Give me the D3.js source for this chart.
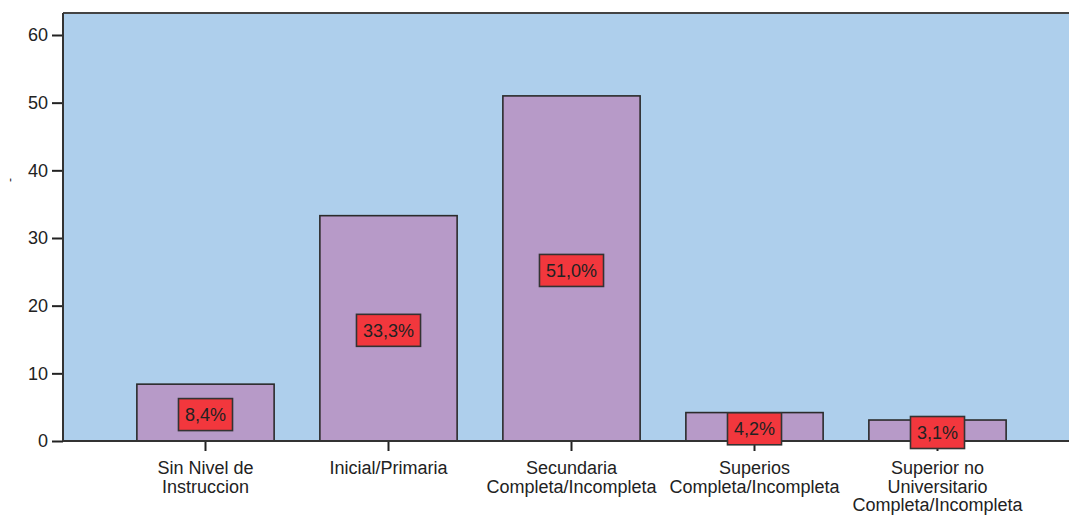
<!DOCTYPE html>
<html>
<head>
<meta charset="utf-8">
<script src="https://cdn.jsdelivr.net/npm/d3@7"></script>
<style>
  body { margin: 0; background: #fff; }
  text { font-family: "Liberation Sans", Arial, sans-serif; fill: #222; }
</style>
</head>
<body>
<div id="canvas"></div>
<script>
// data
var categories = [
  ["Sin Nivel de", "Instruccion"],
  ["Inicial/Primaria"],
  ["Secundaria", "Completa/Incompleta"],
  ["Superios", "Completa/Incompleta"],
  ["Superior no", "Universitario", "Completa/Incompleta"]
];
var values = [8.4, 33.3, 51.0, 4.2, 3.1];
var valueLabels = ["8,4%", "33,3%", "51,0%", "4,2%", "3,1%"];
var yTicks = [0, 10, 20, 30, 40, 50, 60];

var W = 1069, H = 515;
var m = {t: 13, r: 0, b: 74, l: 63};

var svg = d3.select('#canvas').append('svg')
  .attr('width', W)
  .attr('height', H);

var keys = categories.map(function(d, i) { return i; });

var scaleX = d3.scaleBand()
  .domain(keys)
  .range([114, 1029])
  .paddingInner(0.25)
  .paddingOuter(0.125);

var scaleY = d3.scaleLinear()
  .domain([0, 63.25])
  .range([H - m.b, m.t]);

// plot background
svg.append('rect')
  .attr('x', m.l)
  .attr('y', m.t)
  .attr('width', W - m.l + 2)
  .attr('height', scaleY(0) - m.t)
  .style('fill', '#aecfec');

// bars
svg.selectAll('rect.bar').data(values).enter()
  .append('rect')
  .attr('class', 'bar')
  .attr('x', function(d, i) { return scaleX(i); })
  .attr('y', function(d) { return scaleY(d); })
  .attr('width', scaleX.bandwidth())
  .attr('height', function(d) { return scaleY(0) - scaleY(d); })
  .style('fill', '#b79ac8')
  .style('stroke', '#2b2b2b')
  .style('stroke-width', 1.6);

// top frame line
svg.append('line')
  .attr('x1', m.l).attr('x2', W)
  .attr('y1', m.t).attr('y2', m.t)
  .style('stroke', '#444')
  .style('stroke-width', 2);

// axes
var yAxis = d3.axisLeft(scaleY).tickValues(yTicks).tickSize(11).tickPadding(4);
var gy = svg.append('g')
  .attr('transform', 'translate(' + m.l + ',0)')
  .call(yAxis);
gy.select('.domain').remove();
gy.append('line')
  .attr('x1', 0).attr('x2', 0)
  .attr('y1', m.t).attr('y2', scaleY(0))
  .style('stroke', '#333').style('stroke-width', 2);
gy.selectAll('.tick line').style('stroke', '#222').style('stroke-width', 2);
gy.selectAll('.tick text')
  .style('font-size', '18px')
  .attr('fill', '#222');

var xAxis = d3.axisBottom(scaleX).tickSize(10).tickFormat('');
var gx = svg.append('g')
  .attr('transform', 'translate(0,' + scaleY(0) + ')')
  .call(xAxis);
gx.select('.domain').remove();
gx.append('line')
  .attr('x1', m.l).attr('x2', W)
  .attr('y1', 0).attr('y2', 0)
  .style('stroke', '#333').style('stroke-width', 2);
gx.selectAll('.tick line').style('stroke', '#222').style('stroke-width', 2);

// category labels
gx.selectAll('.tick').each(function(k) {
  var t = d3.select(this).append('text')
    .attr('y', 33)
    .attr('text-anchor', 'middle')
    .style('font-size', '18px')
    .attr('fill', '#222');
  categories[k].forEach(function(line, j) {
    t.append('tspan').attr('x', 0).attr('dy', j ? 18.7 : 0).text(line);
  });
});

// value labels in red boxes
var lbl = svg.selectAll('g.lbl').data(values).enter()
  .append('g')
  .attr('class', 'lbl')
  .attr('transform', function(d, i) {
    return 'translate(' + (scaleX(i) + scaleX.bandwidth() / 2) + ',' + (scaleY(d / 2) + 2) + ')';
  });

lbl.each(function(d, i) {
  var g = d3.select(this);
  var r = g.append('rect');
  var t = g.append('text')
    .attr('text-anchor', 'middle')
    .attr('dy', '0.36em')
    .style('font-size', '18px')
    .attr('fill', '#1a1a1a')
    .text(valueLabels[i]);
  var tw = t.node().getComputedTextLength();
  r.attr('x', -tw / 2 - 6.5)
    .attr('y', -16)
    .attr('width', tw + 13)
    .attr('height', 32)
    .style('fill', '#f2373d')
    .style('stroke', '#333')
    .style('stroke-width', 1.6);
});

// y axis title (just a dash)
svg.append('text')
  .attr('transform', 'translate(14,180) rotate(-90)')
  .attr('text-anchor', 'middle')
  .style('font-size', '12px')
  .text('-');
</script>
</body>
</html>
